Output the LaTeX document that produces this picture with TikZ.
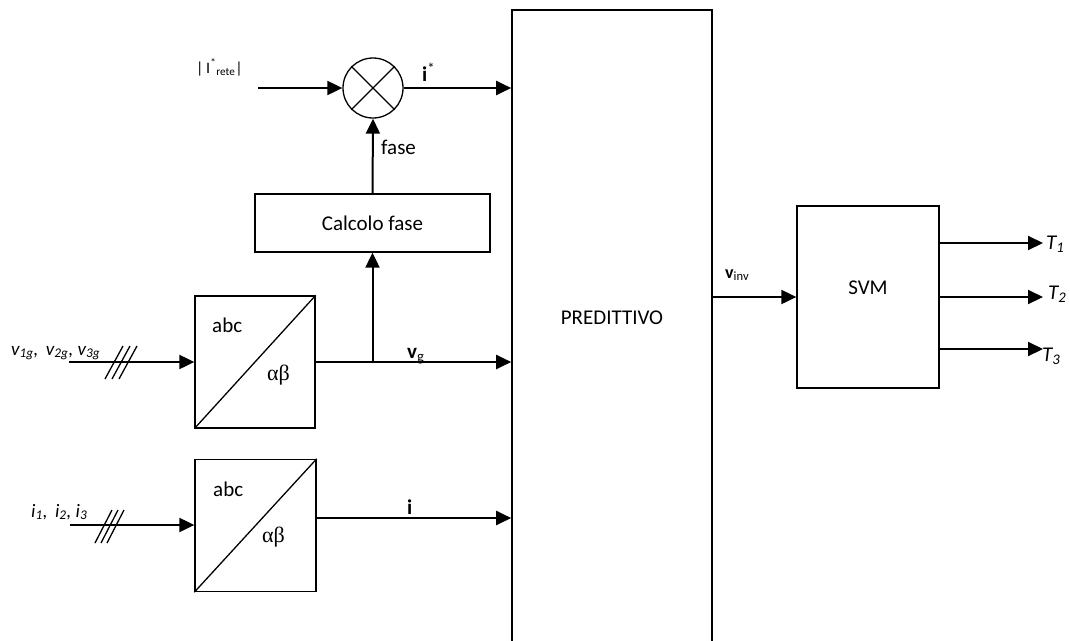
\documentclass[tikz,border=0pt]{standalone}
\usepackage{fontspec}
\setmainfont{Carlito}
\newfontfamily\grfont{Liberation Serif}
\usetikzlibrary{arrows.meta,calc}
\begin{document}
\begin{tikzpicture}[x=1pt,y=-1pt,
  box/.style={draw, line width=1.3pt, inner sep=0pt},
  conn/.style={line width=2pt, -{Triangle[length=15pt,width=14pt]}},
  lbl/.style={inner sep=0pt, font=\fontsize{21}{24}\selectfont},
  slbl/.style={inner sep=0pt, font=\fontsize{19}{22}\selectfont},
  grlbl/.style={inner sep=0pt, font=\grfont\fontsize{22}{24}\selectfont, anchor=base west},
  slash/.style={line width=1.3pt},
]
\useasboundingbox (0,0) rectangle (1070,640);

% blocks
\node[box, line width=1.6pt, minimum width=200pt, minimum height=640pt] (pred) at (612,330) {};
\node[lbl] (predtxt) at (612,318) {PREDITTIVO};
\node[box, circle, minimum size=60pt] (mul) at (373,88) {};
\draw[line width=1.3pt] (mul.north west) -- (mul.south east);
\draw[line width=1.3pt] (mul.north east) -- (mul.south west);
\node[box, minimum width=235pt, minimum height=58pt, lbl] (calc) at (372.5,223) {Calcolo fase};
\node[box, minimum width=120pt, minimum height=132pt] (abc1) at (255,362) {};
\draw[line width=1.3pt] (abc1.south west) -- (abc1.north east);
\node[lbl, anchor=base west] (abc1a) at (212,332) {abc};
\node[grlbl] (abc1b) at (267,380) {αβ};
\node[box, minimum width=121pt, minimum height=132pt] (abc2) at (255.5,525.5) {};
\draw[line width=1.3pt] (abc2.south west) -- (abc2.north east);
\node[lbl, anchor=base west] (abc2a) at (213,496) {abc};
\node[grlbl] (abc2b) at (262,542) {αβ};
\node[box, minimum width=142pt, minimum height=182pt] (svm) at (868,297) {};
\node[lbl] (svmtxt) at (868,288) {SVM};

% reference current input
\coordinate (iin) at (258,88);
\node[inner sep=0pt, anchor=base west, font=\fontsize{16}{18}\selectfont] (iref) at (196,73) {|\,I\textsuperscript{*}\textsubscript{rete}|};
\draw[conn] (iin) -- (mul.west);
\draw[conn] (mul.east) -- (mul.east -| pred.west);
\node[lbl, anchor=base west] (istar) at (422,81) {\textbf{i}\textsuperscript{*}};
\draw[conn] (calc.north) -- (mul.south);
\node[lbl, anchor=base west] (fase) at (381,154) {fase};

% vg path
\coordinate (vin) at (69,362);
\draw[conn] (vin) -- (abc1.west);
\foreach \k in {0,7,14} \draw[slash] (105+\k,379) -- (123+\k,346);
\node[slbl, anchor=base west] (vlabel) at (11,355) {\textit{v\textsubscript{1g}, \,v\textsubscript{2g}, v\textsubscript{3g}}};
\coordinate (branch) at (calc.south |- abc1.east);
\draw[conn] (abc1.east) -- (abc1.east -| pred.west);
\draw[conn] (branch) -- (calc.south);
\node[lbl, anchor=base west] (vg) at (407,358) {\textbf{v}\textsubscript{g}};

% i path
\coordinate (iinp) at (70,525);
\draw[conn] (iinp) -- (iinp -| abc2.west);
\foreach \k in {0,6,12} \draw[slash] (95+\k,543) -- (112+\k,510);
\node[slbl, anchor=base west] (ilabel) at (31,517) {\textit{i\textsubscript{1}, \,i\textsubscript{2}, i\textsubscript{3}}};
\coordinate (iout) at ($(abc2.east)+(0,-7.5)$);
\draw[conn] (iout) -- (iout -| pred.west);
\node[lbl, anchor=base west] (ilbl) at (407,514) {\textbf{i}};

% output side
\draw[conn] (pred.east |- svm.west) -- (svm.west);
\node[inner sep=0pt, anchor=base west, font=\fontsize{18}{20}\selectfont] (vinv) at (725,278) {\textbf{v}\textsubscript{inv}};
\coordinate (t1) at (1043,243);
\coordinate (t2) at (1043,297);
\coordinate (t3) at (1043,349);
\draw[conn] (t1 -| svm.east) -- (t1);
\draw[conn] (t2 -| svm.east) -- (t2);
\draw[conn] (t3 -| svm.east) -- (t3);
\node[lbl, anchor=west] (T1) at (1046,244) {\textit{T\textsubscript{1}}};
\node[lbl, anchor=west] (T2) at (1048,294) {\textit{T\textsubscript{2}}};
\node[lbl, anchor=west] (T3) at (1042,356) {\textit{T\textsubscript{3}}};
\end{tikzpicture}
\end{document}
